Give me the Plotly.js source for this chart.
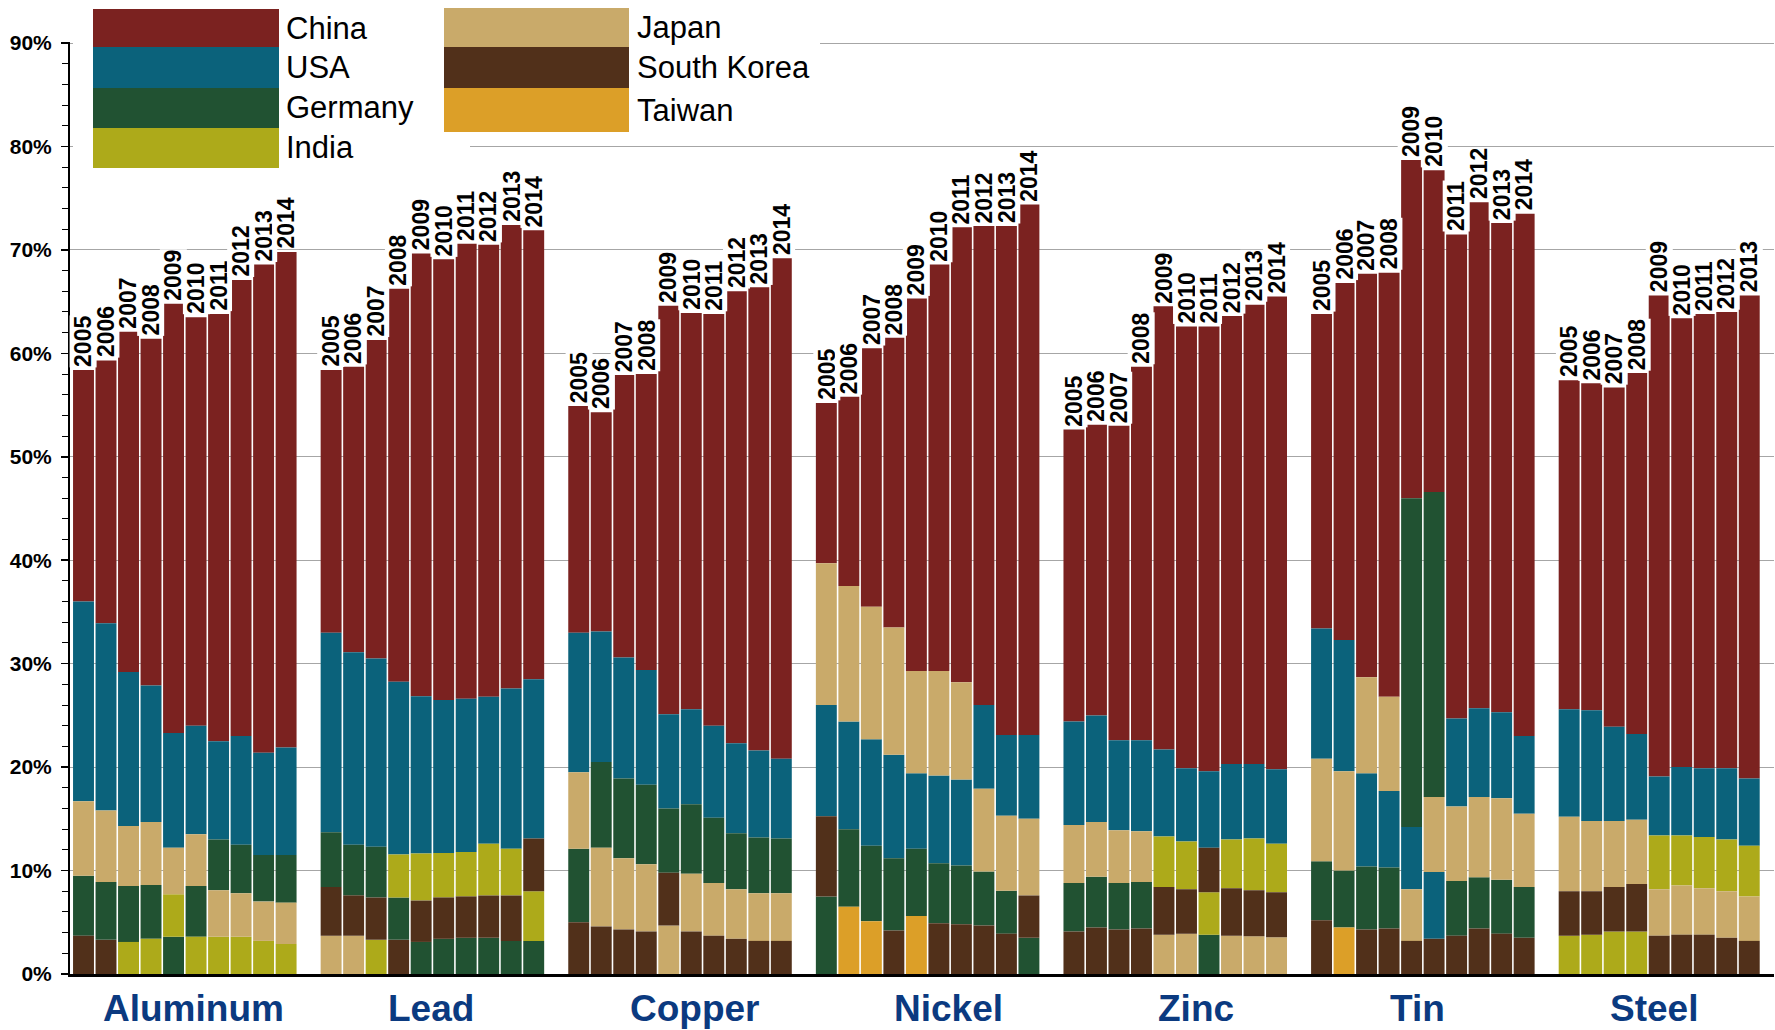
<!DOCTYPE html>
<html>
<head>
<meta charset="utf-8">
<script src="https://cdn.plot.ly/plotly-3.0.1.min.js"></script>
<style>html,body{margin:0;padding:0;background:#fff;}#chart{width:1775px;height:1030px;}</style>
</head>
<body>
<div id="chart"></div>
<script>
// ---------------- DATA ----------------
const metals = ["Aluminum", "Lead", "Copper", "Nickel", "Zinc", "Tin", "Steel"];
const years = ["2005","2006","2007","2008","2009","2010","2011","2012","2013","2014"];
const yearsPerMetal = [10, 10, 10, 10, 10, 10, 9];
const countries = ["China", "USA", "Germany", "India", "Japan", "South Korea", "Taiwan"];
const countryColors = ["#7B2220", "#0B627B", "#215232", "#ADAA1A", "#C9AA6A", "#51301A", "#DC9F28"];

// share of world consumption (%), rows = metals (Aluminum..Steel), cols = 2005..2014; 0 = not in top five
const china = [
  [22.4, 25.4, 32.9, 33.5, 41.5, 39.5, 41.3, 44.1, 47.2, 47.9],
  [25.4, 27.6, 30.8, 38.0, 42.8, 42.6, 44.0, 43.7, 44.8, 43.4],
  [21.9, 21.2, 27.3, 28.6, 39.5, 38.3, 39.8, 43.7, 44.8, 48.4],
  [15.5, 18.3, 25.0, 28.0, 36.0, 39.3, 44.0, 46.3, 49.2, 51.3],
  [28.25, 28.1, 30.4, 36.1, 42.85, 42.7, 43.0, 43.3, 44.4, 45.7],
  [30.4, 34.5, 39.0, 41.0, 32.7, 31.1, 46.8, 48.9, 47.3, 50.5],
  [31.8, 31.6, 32.8, 34.9, 46.5, 43.4, 43.9, 44.1, 46.7]
];
const usa = [
  [19.3, 18.1, 14.9, 13.2, 11.1, 10.5, 9.5, 10.5, 9.9, 10.4],
  [19.3, 18.6, 18.2, 16.7, 15.2, 14.8, 14.8, 14.2, 15.5, 15.4],
  [13.5, 12.6, 11.7, 11.1, 9.1, 9.2, 8.9, 8.7, 8.4, 7.7],
  [10.75, 10.4, 10.3, 10.0, 7.3, 8.5, 8.3, 8.1, 7.8, 8.1],
  [10.0, 10.3, 8.7, 8.8, 8.4, 7.1, 7.4, 7.3, 7.2, 7.2],
  [12.6, 12.7, 9.0, 7.4, 6.0, 6.45, 8.5, 8.6, 8.3, 7.5],
  [10.4, 10.7, 9.1, 8.3, 5.7, 6.6, 6.65, 6.9, 6.5]
];
const germany = [
  [5.8, 5.6, 5.4, 5.2, 3.6, 4.9, 4.9, 4.7, 4.5, 4.6],
  [5.3, 4.9, 4.9, 4.1, 3.1, 3.4, 3.5, 3.5, 3.2, 3.2],
  [7.1, 8.3, 7.7, 7.7, 6.2, 6.7, 6.3, 5.4, 5.4, 5.3],
  [7.5, 7.5, 7.3, 7.0, 6.5, 5.8, 5.7, 5.2, 4.15, 3.5],
  [4.7, 4.9, 4.5, 4.5, 0, 0, 3.8, 0, 0, 0],
  [5.7, 5.5, 6.1, 5.9, 31.8, 29.5, 5.3, 4.95, 5.2, 4.9],
  [0, 0, 0, 0, 0, 0, 0, 0, 0]
];
const india = [
  [0, 0, 3.1, 3.4, 4.1, 3.6, 3.6, 3.6, 3.2, 2.9],
  [0, 0, 3.3, 4.15, 4.55, 4.3, 4.3, 5.0, 4.5, 4.8],
  [0, 0, 0, 0, 0, 0, 0, 0, 0, 0],
  [0, 0, 0, 0, 0, 0, 0, 0, 0, 0],
  [0, 0, 0, 0, 4.9, 4.6, 4.1, 4.7, 5.0, 4.7],
  [0, 0, 0, 0, 0, 0, 0, 0, 0, 0],
  [3.7, 3.8, 4.1, 4.1, 5.2, 4.85, 4.95, 5.0, 4.9]
];
const japan = [
  [7.2, 6.9, 5.8, 6.1, 4.5, 5.0, 4.5, 4.2, 3.8, 4.0],
  [3.7, 3.7, 0, 0, 0, 0, 0, 0, 0, 0],
  [7.4, 7.6, 6.9, 6.5, 4.7, 5.6, 5.1, 4.8, 4.6, 4.6],
  [13.7, 13.1, 12.8, 12.3, 9.9, 10.1, 9.4, 8.0, 7.25, 7.4],
  [5.6, 5.3, 5.1, 4.9, 3.8, 3.9, 0, 3.7, 3.65, 3.55],
  [9.9, 9.6, 9.3, 9.1, 5.0, 7.25, 7.2, 7.75, 7.9, 7.1],
  [7.2, 6.8, 6.4, 6.2, 4.5, 4.75, 4.5, 4.5, 4.3]
];
const southKorea = [
  [3.7, 3.3, 0, 0, 0, 0, 0, 0, 0, 0],
  [4.7, 3.9, 4.1, 3.3, 4.0, 4.0, 4.0, 4.1, 4.4, 5.1],
  [5.0, 4.6, 4.3, 4.1, 5.1, 4.1, 3.7, 3.4, 3.2, 3.2],
  [7.75, 0, 0, 4.2, 0, 4.9, 4.8, 4.7, 3.9, 4.1],
  [4.1, 4.5, 4.3, 4.4, 4.6, 4.3, 4.3, 4.6, 4.45, 4.35],
  [5.2, 0, 4.3, 4.4, 3.2, 3.4, 3.7, 4.4, 3.9, 3.5],
  [4.3, 4.2, 4.3, 4.6, 3.7, 3.8, 3.8, 3.5, 3.2]
];
const taiwan = [
  [0, 0, 0, 0, 0, 0, 0, 0, 0, 0],
  [0, 0, 0, 0, 0, 0, 0, 0, 0, 0],
  [0, 0, 0, 0, 0, 0, 0, 0, 0, 0],
  [0, 6.5, 5.1, 0, 5.6, 0, 0, 0, 0, 0],
  [0, 0, 0, 0, 0, 0, 0, 0, 0, 0],
  [0, 4.5, 0, 0, 0, 0, 0, 0, 0, 0],
  [0, 0, 0, 0, 0, 0, 0, 0, 0]
];
const countryData = [china, usa, germany, india, japan, southKorea, taiwan];

// ---------------- BUILD ----------------
const SLOT = 11; // 10 bars + 1 gap per metal group
const labelShift = [9, -1, 15, 21, 21, -5, -5]; // px offset of group captions (layout only)
const traces = countries.map((c, ci) => ({
  type: "bar", name: c, x: [], y: [], base: [],
  marker: { color: countryColors[ci], line: { width: 0 } },
  width: 0.93, showlegend: false,
  hovertemplate: c + ": %{y:.1f}%<extra></extra>"
}));
const annotations = [];
const yearFont = { family: "Liberation Sans, Arial, sans-serif", size: 23, color: "#000", weight: "bold" };

metals.forEach((m, mi) => {
  for (let j = 0; j < yearsPerMetal[mi]; j++) {
    const xpos = mi * SLOT + j;
    const present = [];
    countryData.forEach((arr, ci) => { const v = arr[mi][j]; if (v > 0) present.push([ci, v]); });
    present.sort((a, b) => a[1] - b[1]);
    let cum = 0;
    present.forEach(([ci, v]) => {
      traces[ci].x.push(xpos); traces[ci].y.push(v); traces[ci].base.push(cum);
      cum += v;
    });
    annotations.push({
      x: xpos, y: cum, xref: "x", yref: "y", text: years[j], textangle: -90,
      xanchor: "center", yanchor: "bottom", yshift: 2, showarrow: false,
      font: yearFont, bgcolor: "#ffffff", borderpad: 0
    });
  }
  annotations.push({
    x: mi * SLOT + (yearsPerMetal[mi] - 1) / 2, y: -0.037, xref: "x", yref: "paper",
    xshift: labelShift[mi],
    text: m, showarrow: false, xanchor: "center", yanchor: "middle",
    font: { family: "Liberation Sans, Arial, sans-serif", size: 37, color: "#0B3A80", weight: "bold" }
  });
});

// ---------------- LEGEND (drawn with shapes) ----------------
const W = 1775, H = 1030, ML = 70, MR = 1, MT = 42, MB = 56;
const pw = W - ML - MR, ph = H - MT - MB;
const px2x = p => (p - ML) / pw;
const py2y = p => (H - MB - p) / ph;
const shapes = [];
shapes.push({ type: "rect", xref: "paper", yref: "paper", x0: px2x(73), x1: px2x(470), y0: py2y(172), y1: py2y(0), fillcolor: "#fff", line: { width: 0 }, layer: "above" });
shapes.push({ type: "rect", xref: "paper", yref: "paper", x0: px2x(440), x1: px2x(820), y0: py2y(137), y1: py2y(0), fillcolor: "#fff", line: { width: 0 }, layer: "above" });
const legendCols = [
  { items: [0, 1, 2, 3], x0: 93, x1: 279, tx: 284, edges: [9, 47, 88, 128, 168] },
  { items: [4, 5, 6], x0: 444, x1: 629, tx: 635, edges: [8, 47, 88, 132] }
];
legendCols.forEach(col => {
  col.items.forEach((ci, k) => {
    const t = col.edges[k], b = col.edges[k + 1];
    shapes.push({ type: "rect", xref: "paper", yref: "paper", x0: px2x(col.x0), x1: px2x(col.x1), y0: py2y(b), y1: py2y(t), fillcolor: countryColors[ci], line: { width: 0 }, layer: "above" });
    annotations.push({ x: px2x(col.tx), y: py2y((t + b) / 2), xref: "paper", yref: "paper", text: countries[ci], showarrow: false, xanchor: "left", yanchor: "middle", font: { family: "Liberation Sans, Arial, sans-serif", size: 31, color: "#000" } });
  });
});

const layout = {
  width: W, height: H,
  margin: { l: ML, r: MR, t: MT, b: MB, pad: 0 },
  paper_bgcolor: "#fff", plot_bgcolor: "#fff",
  barmode: "overlay", showlegend: false,
  xaxis: { range: [-0.6, 75.1], showgrid: false, zeroline: false, showticklabels: false, ticks: "", showline: true, linecolor: "#000", linewidth: 3, fixedrange: true },
  yaxis: {
    range: [0, 90.1], dtick: 10, tick0: 0, ticksuffix: "%", showgrid: true, gridcolor: "#a6a6a6", gridwidth: 1,
    zeroline: false, showline: true, linecolor: "#000", linewidth: 2,
    ticks: "outside", ticklen: 7, tickwidth: 1.5, tickcolor: "#000", ticklabelstandoff: 5,
    minor: { dtick: 2, ticks: "outside", ticklen: 6, tickwidth: 1, tickcolor: "#000", showgrid: false },
    tickfont: { family: "Liberation Sans, Arial, sans-serif", size: 21, color: "#000", weight: "bold" },
    fixedrange: true
  },
  shapes: shapes,
  annotations: annotations
};

Plotly.newPlot("chart", traces, layout, { displayModeBar: false, staticPlot: true });
</script>
</body>
</html>
